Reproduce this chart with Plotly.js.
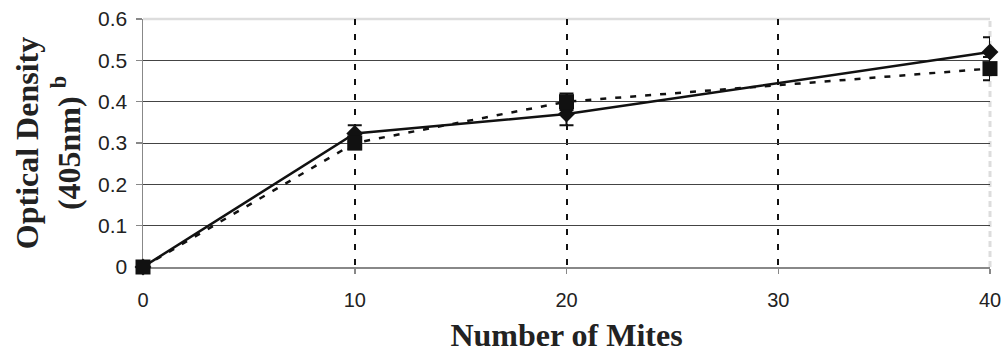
<!DOCTYPE html>
<html>
<head>
<meta charset="utf-8">
<script src="https://cdn.plot.ly/plotly-3.0.1.min.js"></script>
<style>html,body{margin:0;padding:0;background:#fff;}#chart{width:1003px;height:358px;}</style>
</head>
<body>
<div id="chart"></div>
<script>
var mites = [0, 10, 20, 30, 40];
var xPoints = [0, 10, 20, 40];
var seriesDiamond = [0, 0.323, 0.37, 0.52];
var errDiamond = [null, 0.02, 0.027, 0.036];
var seriesSquare = [0, 0.30, 0.40, 0.48];
var errSquare = [null, 0.015, 0.02, 0.028];
var yTicks = [0, 0.1, 0.2, 0.3, 0.4, 0.5, 0.6];
var yTickLabels = ['0', '0.1', '0.2', '0.3', '0.4', '0.5', '0.6'];

var traces = [
  {
    x: xPoints, y: seriesDiamond, type: 'scatter', mode: 'lines+markers',
    line: {color: '#111', width: 2.5},
    marker: {symbol: 'diamond', size: 13, color: '#111'},
    error_y: {type: 'data', array: errDiamond, visible: true, color: '#111', thickness: 2, width: 7},
    showlegend: false, cliponaxis: false
  },
  {
    x: xPoints, y: seriesSquare, type: 'scatter', mode: 'lines+markers',
    line: {color: '#111', width: 2.5, dash: '6px,9px'},
    marker: {symbol: 'square', size: 15, color: '#111'},
    error_y: {type: 'data', array: errSquare, visible: true, color: '#111', thickness: 2, width: 7},
    showlegend: false, cliponaxis: false
  }
];

var layout = {
  width: 1003, height: 358,
  margin: {l: 143, r: 13, t: 19, b: 91},
  paper_bgcolor: '#fff', plot_bgcolor: '#fff',
  font: {family: 'Liberation Sans, Arial, sans-serif', color: '#222', size: 20},
  xaxis: {
    range: [0, 40], tickvals: mites, ticktext: mites.map(String),
    layer: 'below traces',
    showgrid: true, gridcolor: '#111', gridwidth: 2, griddash: '6px,9px',
    showline: true, linecolor: '#888', linewidth: 1.5,
    ticks: 'outside', ticklen: 5, tickcolor: '#888', tickwidth: 1.5,
    ticklabelstandoff: 9,
    zeroline: false,
    tickfont: {size: 20, color: '#222'},
    title: {text: 'Number of Mites', font: {family: 'Liberation Serif, Times New Roman, serif', size: 32, color: '#222', weight: 'bold'}, standoff: 14}
  },
  yaxis: {
    range: [0, 0.6], tickvals: yTicks, ticktext: yTickLabels,
    layer: 'below traces',
    showgrid: true, gridcolor: '#444', gridwidth: 1,
    showline: true, linecolor: '#888', linewidth: 1.5,
    ticks: 'outside', ticklen: 6, tickcolor: '#888', tickwidth: 1.5,
    ticklabelstandoff: 4,
    zeroline: false,
    tickfont: {size: 21, color: '#222'},
    title: {text: 'Optical Density<br>(405nm) <sup>b</sup>', font: {family: 'Liberation Serif, Times New Roman, serif', size: 32, color: '#222', weight: 'bold'}, standoff: 8}
  },
  shapes: [
    {type: 'line', xref: 'paper', yref: 'paper', x0: 0, x1: 1, y0: 1, y1: 1, line: {color: '#ddd', width: 2.5}, layer: 'between'},
    {type: 'line', xref: 'paper', yref: 'paper', x0: 1, x1: 1, y0: 0, y1: 1, line: {color: '#ddd', width: 3, dash: '6px,4px'}, layer: 'between'}
  ]
};

Plotly.newPlot('chart', traces, layout, {staticPlot: true});
</script>
</body>
</html>
